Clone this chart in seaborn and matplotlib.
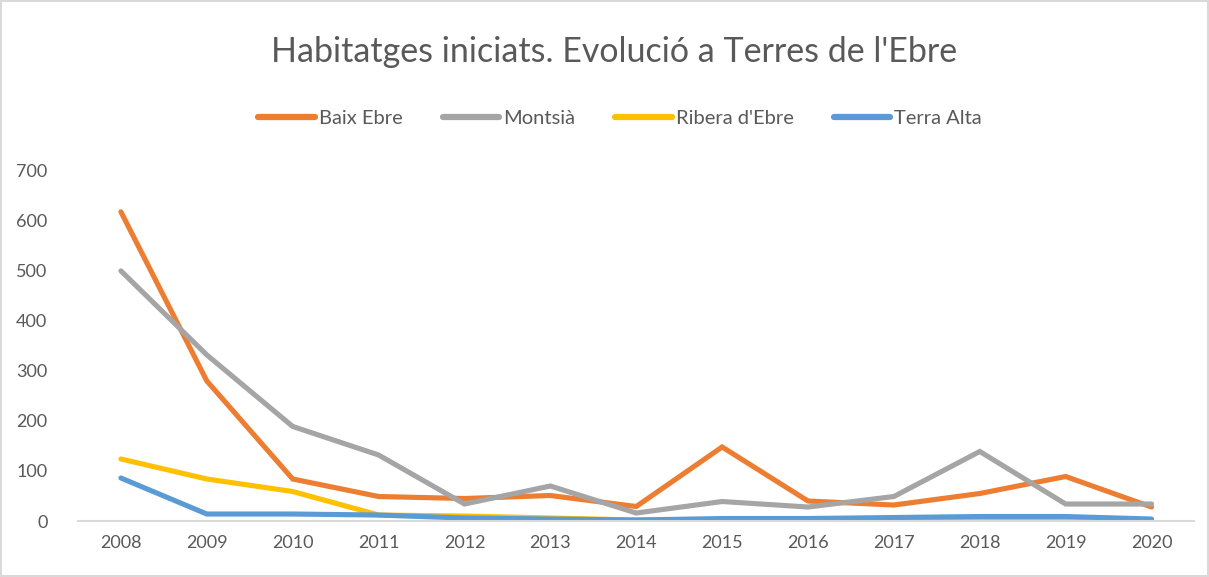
import pandas as pd
import matplotlib.pyplot as plt
import seaborn as sns

years = list(range(2008, 2021))
baix_ebre = [618, 280, 84, 49, 45, 51, 29, 148, 40, 32, 55, 89, 28]
montsia = [500, 332, 189, 132, 34, 70, 16, 39, 28, 49, 139, 34, 34]
ribera_ebre = [124, 84, 59, 12, 10, 6, 2, 3, 2, 4, 3, 2, 2]
terra_alta = [86, 14, 14, 12, 6, 4, 2, 5, 5, 7, 9, 9, 4]

series_names = ["Baix Ebre", "Montsià", "Ribera d'Ebre", "Terra Alta"]
colors = ["#ED7D31", "#A5A5A5", "#FFC000", "#5B9BD5"]

df = pd.DataFrame({
    "year": years * 4,
    "value": baix_ebre + montsia + ribera_ebre + terra_alta,
    "comarca": sum([[n] * len(years) for n in series_names], []),
})

sns.set_theme(style="white")
plt.rcParams["font.family"] = ["Lato", "DejaVu Sans"]

fig = plt.figure(figsize=(12.09, 5.77), dpi=100)
fig.patch.set_edgecolor("#D9D9D9")
fig.patch.set_linewidth(1.5)
ax = fig.add_axes([0.0645, 0.097, 0.9235, 0.607])

# Excel-like line chart
sns.lineplot(data=df, x="year", y="value", hue="comarca", hue_order=series_names,
             palette=colors, linewidth=3.7, ax=ax, legend=False,
             solid_capstyle="round", solid_joinstyle="miter")

ax.set_xlim(2007.5, 2020.5)
ax.set_ylim(0, 700)
ax.set_xticks(years)
ax.set_yticks(range(0, 701, 100))
ax.set_xlabel("")
ax.set_ylabel("")
for s in ["top", "right", "left"]:
    ax.spines[s].set_visible(False)
ax.spines["bottom"].set_color("#D9D9D9")
ax.spines["bottom"].set_linewidth(1.5)
ax.tick_params(axis="both", length=0, labelsize=13, labelcolor="#595959")
ax.tick_params(axis="x", pad=10)
ax.tick_params(axis="y", pad=22)

fig.text(0.508, 0.91, "Habitatges iniciats. Evolució a Terres de l'Ebre",
         ha="center", va="center", fontsize=24.5, color="#595959")

handles = [plt.Line2D([], [], color=c, linewidth=4.5, solid_capstyle="round") for c in colors]
fig.legend(handles, series_names, loc="center", bbox_to_anchor=(0.513, 0.795), ncol=4,
           frameon=False, fontsize=14.5, labelcolor="#595959", handlelength=2.8,
           handletextpad=0.2, columnspacing=2.0)

fig.savefig("out.png", dpi=100)
